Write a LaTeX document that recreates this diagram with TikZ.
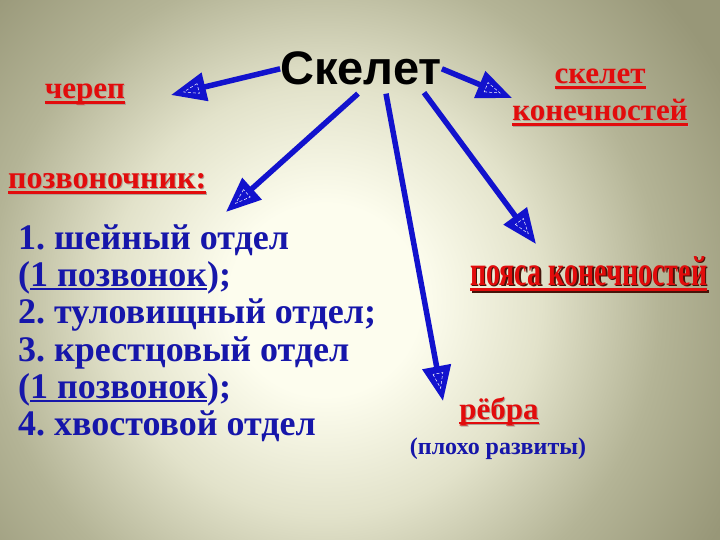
\documentclass[tikz,border=0pt]{standalone}
\usepackage{fontspec}
\usepackage{graphicx}
\setmainfont{Liberation Serif}
\newfontfamily\arialfont{Liberation Sans}
\usetikzlibrary{arrows.meta,decorations.markings,calc}
\definecolor{txtred}{RGB}{226,12,12}
\definecolor{txtblue}{RGB}{22,22,170}
\definecolor{arrblue}{RGB}{18,18,205}
\definecolor{bgin}{RGB}{253,253,238}
\definecolor{bgmid}{RGB}{226,226,202}
\definecolor{bgout}{RGB}{180,180,150}
\definecolor{bgcorner}{RGB}{152,151,120}
\definecolor{shadowc}{RGB}{175,160,150}
\definecolor{darkshadow}{RGB}{70,20,10}
\pgfdeclareradialshading{bgshade}{\pgfpoint{0bp}{0bp}}{color(0bp)=(bgin); color(4bp)=(bgin); color(9bp)=(bgmid); color(14bp)=(bgout); color(19bp)=(bgcorner); color(50bp)=(bgcorner)}
% underline: #1 drop, #2 thickness, #3 text
\newcommand\myul[3]{\setbox0=\hbox{#3}\rlap{\rule[-#1]{\wd0}{#2}}\box0}
% shadow: #1 colour, #2 offset, #3 text
\newcommand\myshad[3]{\rlap{\hspace{#2}\raisebox{-#2}{\color{#1}#3}}#3}
\begin{document}
\frenchspacing
\begin{tikzpicture}[x=1pt,y=-1pt,
  redtxt/.style={text=txtred,inner sep=0pt,font=\bfseries\fontsize{31}{31}\selectfont},
  bluetxt/.style={text=txtblue,inner sep=0pt,anchor=base west,font=\bfseries\fontsize{36}{36}\selectfont},
  arr/.style={draw=arrblue,line width=5.5pt,-{Triangle[length=35pt,width=28pt]},
    postaction={decorate},
    decoration={markings,mark=at position 1 with {\draw[white,densely dashed,line width=0.5pt] (-28pt,-5pt) -- (-13pt,0pt) -- (-28pt,5pt) -- cycle;}}}]
\useasboundingbox (0,0) rectangle (720,540);
\begin{scope}
\clip (0,0) rectangle (720,540);
\shade[shading=bgshade] (325,300) circle (600);
\end{scope}
% title
\node[inner sep=0pt,anchor=base,font=\arialfont\bfseries\fontsize{47}{47}\selectfont] (sk) at (361,85) {Скелет};
% red labels
\node[redtxt,anchor=base] (cherep) at (85,99) {\myshad{shadowc}{1pt}{\myul{5pt}{2.5pt}{череп}}};
\node[redtxt,anchor=base] (skel1) at (600,84) {\myshad{shadowc}{1pt}{\myul{5pt}{2.5pt}{скелет}}};
\node[redtxt,anchor=base] (skel2) at (600,121) {\myshad{shadowc}{1pt}{\myul{5pt}{2.5pt}{конечностей}}};
\node[redtxt,anchor=base west,font=\bfseries\fontsize{32}{32}\selectfont] (pozv) at (8,189) {\myshad{shadowc}{1pt}{\myul{5pt}{2.5pt}{позвоночник:}}};
\node[redtxt,anchor=base] (rebra) at (499,419) {\myshad{shadowc}{1pt}{\myul{5pt}{2.5pt}{рёбра}}};
\node[redtxt,anchor=base west] (poyas) at (470,285) {\myshad{darkshadow}{1.5pt}{\myul{6pt}{3pt}{\resizebox{237pt}{29pt}{пояса конечностей}}}};
\node[text=txtblue,inner sep=0pt,anchor=base,font=\bfseries\fontsize{24}{24}\selectfont] (plokho) at (498,454) {(плохо развиты)};
% list
\node[bluetxt] (l1) at (18,249) {1. шейный отдел};
\node[bluetxt] (l2) at (18,286) {(\myul{4pt}{2pt}{1 позвонок});};
\node[bluetxt] (l3) at (18,323) {2. туловищный отдел;};
\node[bluetxt] (l4) at (18,361) {3. крестцовый отдел};
\node[bluetxt] (l5) at (18,398) {(\myul{4pt}{2pt}{1 позвонок});};
\node[bluetxt] (l6) at (18,435) {4. хвостовой отдел};
% arrow tips
\coordinate (tcher) at (171,95);
\coordinate (tkon) at (512,98);
\coordinate (tpoz) at (226,212);
\coordinate (treb) at (443,401);
\coordinate (tpoyas) at (536,244);
\draw[arr] (sk.west) -- (tcher);
\draw[arr] (sk.east) -- (tkon);
\draw[arr] ($(sk.south)+(-3,8)$) -- (tpoz);
\draw[arr] ($(sk.south)+(25,8)$) -- (treb);
\draw[arr] ($(sk.south)+(63,7)$) -- (tpoyas);
\end{tikzpicture}
\end{document}
